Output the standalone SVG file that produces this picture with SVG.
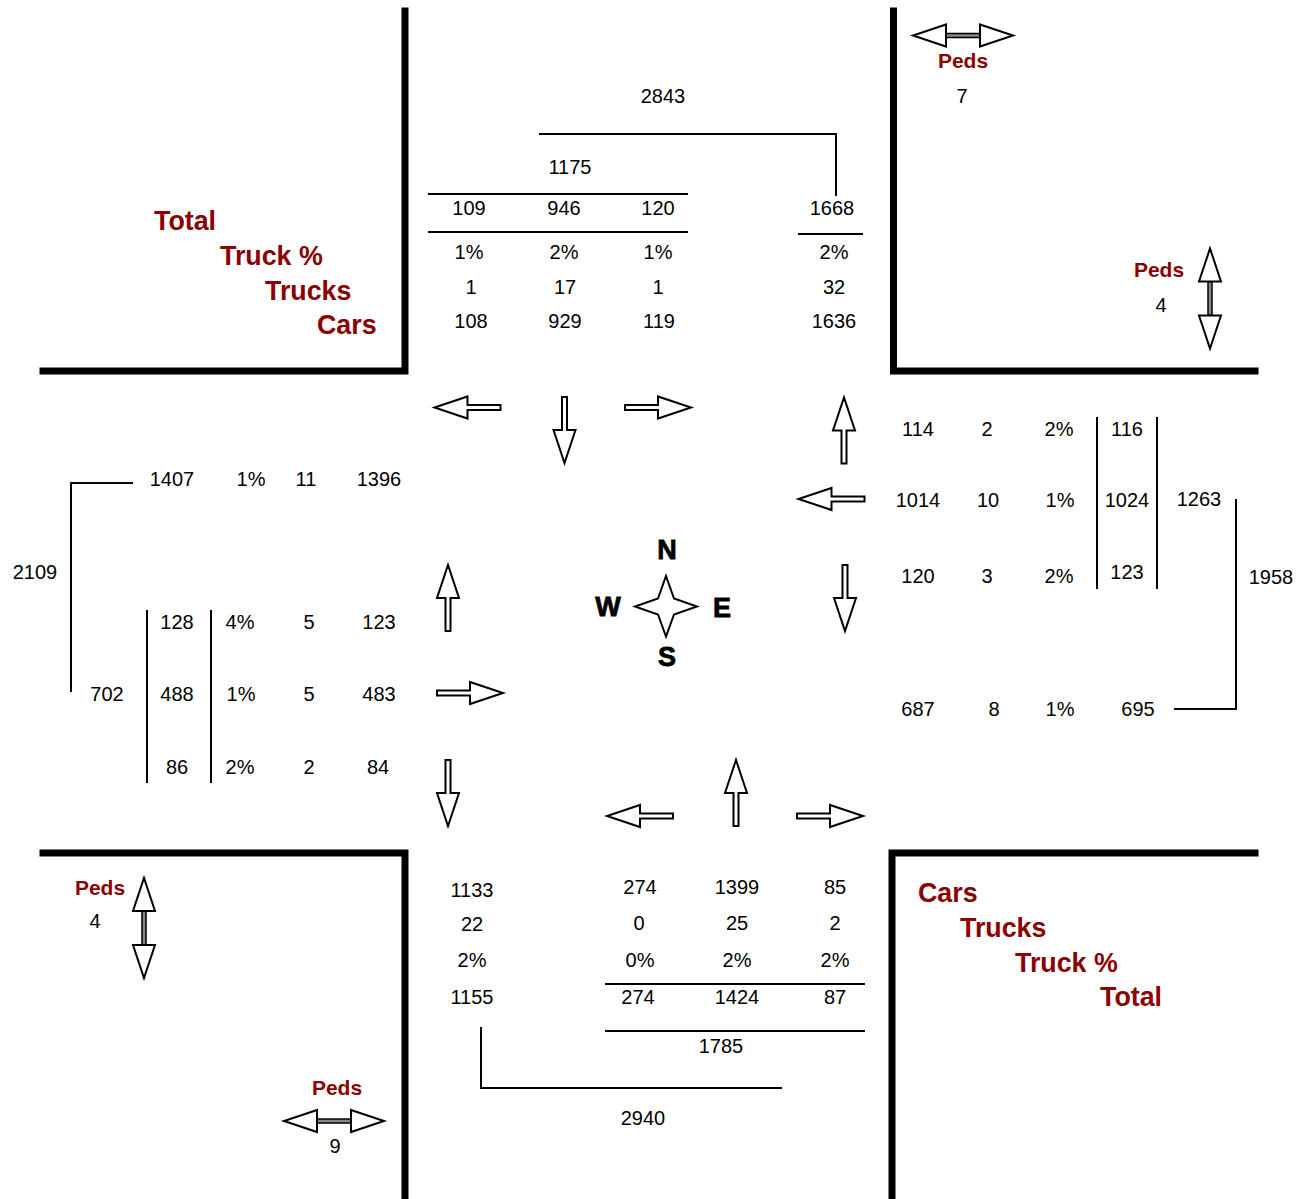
<svg xmlns="http://www.w3.org/2000/svg" xmlns:xlink="http://www.w3.org/1999/xlink" width="1309" height="1199" viewBox="0 0 1309 1199">
<style>
text{font-family:"Liberation Sans",Arial,sans-serif;}
.n{font-size:20px;fill:#000;text-anchor:middle;}
.r{font-size:26.8px;font-weight:bold;fill:#8B0000;}
.p{font-size:21px;font-weight:bold;fill:#8B0000;text-anchor:middle;}
.c{font-size:27px;font-weight:bold;fill:#000;text-anchor:middle;stroke:#000;stroke-width:0.8;}
.wall{stroke:#000;stroke-width:7;fill:none;stroke-linecap:square;}
.ln{stroke:#000;stroke-width:2;fill:none;}
.ar{fill:#fff;stroke:#000;stroke-width:2;stroke-linejoin:miter;}
.da{fill:#fff;stroke:#000;stroke-width:2;}
.sh{fill:#888;stroke:#000;stroke-width:1.5;}
</style>
<defs>
<path id="arr" class="ar" d="M-33,-2.5 H0 V-11 L33,0 L0,11 V2.5 H-33 Z"/>
<g id="dbl">
<rect class="sh" x="-17" y="-2" width="34" height="4"/>
<path class="da" d="M-17,-11 L-50,0 L-17,11 Z"/>
<path class="da" d="M17,-11 L50,0 L17,11 Z"/>
</g>
</defs>
<rect width="1309" height="1199" fill="#fff"/>

<g id="walls">
<path class="wall" d="M405,11 V371 H43"/>
<path class="wall" d="M893.5,11 V371 H1255"/>
<path class="wall" d="M43,853 H405 V1199"/>
<path class="wall" d="M1255,853 H892 V1199"/>
</g>

<g id="connectors">
<path class="ln" d="M539,134 H836 V196"/>
<path class="ln" d="M428,194 H688"/>
<path class="ln" d="M428,232 H688"/>
<path class="ln" d="M798,234 H863"/>
<path class="ln" d="M1097,417 V589"/>
<path class="ln" d="M1157,417 V589"/>
<path class="ln" d="M1236,499 V709 H1174"/>
<path class="ln" d="M133,483 H71 V692"/>
<path class="ln" d="M147,610 V783"/>
<path class="ln" d="M211,610 V783"/>
<path class="ln" d="M605,984 H865"/>
<path class="ln" d="M605,1031 H865"/>
<path class="ln" d="M481,1027 V1088 H782"/>
</g>

<g id="movement-arrows">
<use xlink:href="#arr" transform="translate(467.5,407.5) rotate(180)"/>
<use xlink:href="#arr" transform="translate(564.5,430) rotate(90)"/>
<use xlink:href="#arr" transform="translate(658,407.5)"/>
<use xlink:href="#arr" transform="translate(844,430.5) rotate(-90)"/>
<use xlink:href="#arr" transform="translate(831.5,499)  rotate(180)"/>
<use xlink:href="#arr" transform="translate(845,598) rotate(90)"/>
<use xlink:href="#arr" transform="translate(448,598) rotate(-90)"/>
<use xlink:href="#arr" transform="translate(470,693)"/>
<use xlink:href="#arr" transform="translate(448,793) rotate(90)"/>
<use xlink:href="#arr" transform="translate(640,816) rotate(180)"/>
<use xlink:href="#arr" transform="translate(736,793) rotate(-90)"/>
<use xlink:href="#arr" transform="translate(830,816)"/>
</g>

<g id="peds-arrows">
<use xlink:href="#dbl" transform="translate(963,35.5)"/>
<use xlink:href="#dbl" transform="translate(1210,298.5) rotate(90)"/>
<use xlink:href="#dbl" transform="translate(144,928) rotate(90)"/>
<use xlink:href="#dbl" transform="translate(334,1121)"/>
</g>

<g id="compass">
<path d="M666,576 L674,598.5 L697,606.5 L674,614.5 L666,636.5 L658,614.5 L635,606.5 L658,598.5 Z" fill="#fff" stroke="#000" stroke-width="2"/>
<text class="c" x="667" y="559">N</text>
<text class="c" x="608" y="616">W</text>
<text class="c" x="722" y="617">E</text>
<text class="c" x="667" y="666">S</text>
</g>

<g id="north">
<text class="n" x="663" y="103">2843</text>
<text class="n" x="570" y="174">1175</text>
<text class="n" x="469" y="215">109</text>
<text class="n" x="564" y="215">946</text>
<text class="n" x="658" y="215">120</text>
<text class="n" x="832" y="215">1668</text>
<text class="n" x="469" y="259">1%</text>
<text class="n" x="564" y="259">2%</text>
<text class="n" x="658" y="259">1%</text>
<text class="n" x="834" y="259">2%</text>
<text class="n" x="471" y="294">1</text>
<text class="n" x="565" y="294">17</text>
<text class="n" x="658" y="294">1</text>
<text class="n" x="834" y="294">32</text>
<text class="n" x="471" y="328">108</text>
<text class="n" x="565" y="328">929</text>
<text class="n" x="659" y="328">119</text>
<text class="n" x="834" y="328">1636</text>
</g>

<g id="legend-nw">
<text class="r" x="154" y="230">Total</text>
<text class="r" x="220" y="265">Truck %</text>
<text class="r" x="265" y="300">Trucks</text>
<text class="r" x="317" y="334">Cars</text>
</g>

<g id="peds-labels">
<text class="p" x="963" y="68">Peds</text>
<text class="n" x="962" y="103">7</text>
<text class="p" x="1159" y="277">Peds</text>
<text class="n" x="1161" y="312">4</text>
<text class="p" x="100" y="895">Peds</text>
<text class="n" x="95" y="928">4</text>
<text class="p" x="337" y="1095">Peds</text>
<text class="n" x="335" y="1153">9</text>
</g>

<g id="east">
<text class="n" x="918" y="436">114</text>
<text class="n" x="987" y="436">2</text>
<text class="n" x="1059" y="436">2%</text>
<text class="n" x="1127" y="436">116</text>
<text class="n" x="918" y="507">1014</text>
<text class="n" x="988" y="507">10</text>
<text class="n" x="1060" y="507">1%</text>
<text class="n" x="1127" y="507">1024</text>
<text class="n" x="1199" y="506">1263</text>
<text class="n" x="918" y="583">120</text>
<text class="n" x="987" y="583">3</text>
<text class="n" x="1059" y="583">2%</text>
<text class="n" x="1127" y="579">123</text>
<text class="n" x="1271" y="584">1958</text>
<text class="n" x="918" y="716">687</text>
<text class="n" x="994" y="716">8</text>
<text class="n" x="1060" y="716">1%</text>
<text class="n" x="1138" y="716">695</text>
</g>

<g id="west">
<text class="n" x="172" y="486">1407</text>
<text class="n" x="251" y="486">1%</text>
<text class="n" x="306" y="486">11</text>
<text class="n" x="379" y="486">1396</text>
<text class="n" x="35" y="579">2109</text>
<text class="n" x="177" y="629">128</text>
<text class="n" x="240" y="629">4%</text>
<text class="n" x="309" y="629">5</text>
<text class="n" x="379" y="629">123</text>
<text class="n" x="107" y="701">702</text>
<text class="n" x="177" y="701">488</text>
<text class="n" x="241" y="701">1%</text>
<text class="n" x="309" y="701">5</text>
<text class="n" x="379" y="701">483</text>
<text class="n" x="177" y="774">86</text>
<text class="n" x="240" y="774">2%</text>
<text class="n" x="309" y="774">2</text>
<text class="n" x="378" y="774">84</text>
</g>

<g id="south">
<text class="n" x="472" y="897">1133</text>
<text class="n" x="472" y="931">22</text>
<text class="n" x="472" y="967">2%</text>
<text class="n" x="472" y="1004">1155</text>
<text class="n" x="640" y="894">274</text>
<text class="n" x="737" y="894">1399</text>
<text class="n" x="835" y="894">85</text>
<text class="n" x="639" y="930">0</text>
<text class="n" x="737" y="930">25</text>
<text class="n" x="835" y="930">2</text>
<text class="n" x="640" y="967">0%</text>
<text class="n" x="737" y="967">2%</text>
<text class="n" x="835" y="967">2%</text>
<text class="n" x="638" y="1004">274</text>
<text class="n" x="737" y="1004">1424</text>
<text class="n" x="835" y="1004">87</text>
<text class="n" x="721" y="1053">1785</text>
<text class="n" x="643" y="1125">2940</text>
</g>

<g id="legend-se">
<text class="r" x="918" y="902">Cars</text>
<text class="r" x="960" y="937">Trucks</text>
<text class="r" x="1015" y="972">Truck %</text>
<text class="r" x="1100" y="1006">Total</text>
</g>
</svg>
